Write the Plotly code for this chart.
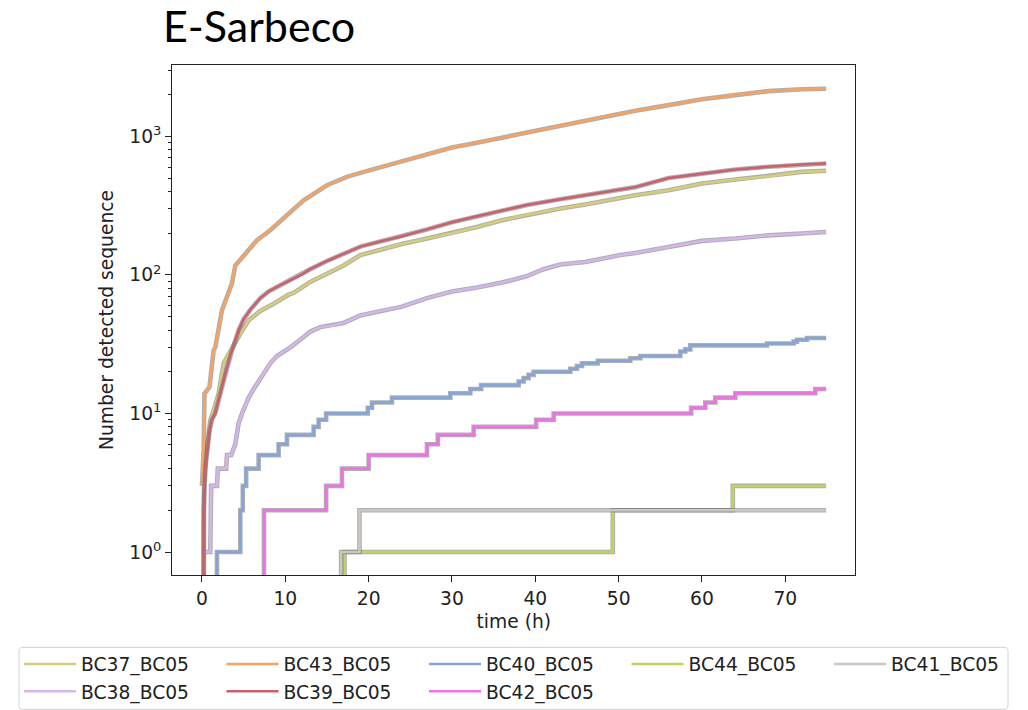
import plotly.graph_objects as go

FONT = "DejaVu Sans"

# ---------------- data (time in hours, cumulative detected sequences) ----------------
names = ["BC37_BC05", "BC38_BC05", "BC43_BC05", "BC39_BC05",
         "BC40_BC05", "BC42_BC05", "BC44_BC05", "BC41_BC05"]

t_bc37 = [0.2, 0.25, 0.5, 1.0, 1.5, 2.0, 2.6, 3.6, 4.6, 5.6, 7.0, 8.6, 10.4, 11.0, 13.0, 15.0,
          17.0, 19.0, 21.5, 24.0, 27.0, 30.0, 33.0, 36.0, 39.0, 43.0, 46.0, 50.2, 52.0, 56.0,
          60.0, 64.0, 68.0, 72.0, 74.9]
v_bc37 = [0, 3, 5, 8.9, 11, 13.9, 23, 30, 37.7, 47, 55, 62, 72, 74, 89, 102,
          117, 139, 153, 167, 183, 200, 222, 248, 272, 302, 322, 359, 376, 409,
          457, 488, 516, 554, 564]

t_bc38 = [0.0, 1.0, 1.1, 1.8, 1.9, 2.9, 3.0, 3.5, 4.0, 4.4, 4.8, 5.6, 6.2, 7.0, 7.4, 8.2, 9.0,
          10.6, 12.2, 13.0, 14.2, 15.5, 17.0, 19.0, 21.5, 24.0, 27.0, 30.0, 33.0, 36.0, 39.0,
          41.0, 43.0, 46.0, 50.2, 52.0, 56.0, 60.0, 64.0, 68.0, 72.0, 74.9]
v_bc38 = [1, 1, 3, 3, 4, 4, 5, 5, 6, 8.5, 10, 13, 15, 18, 19.5, 23, 26,
          30, 35.6, 39, 42, 43, 45, 51, 55, 59, 68, 76, 81, 88, 98,
          110, 119, 124, 139, 144, 159, 176, 183, 193, 199, 204]

t_bc43 = [0.0, 0.2, 0.3, 0.9, 1.4, 1.6, 2.4, 3.2, 3.6, 4.0, 4.6, 5.6, 6.6, 8.2, 10.2, 12.2,
          15.0, 17.4, 19.0, 21.5, 24.0, 27.0, 30.0, 33.0, 36.0, 39.0, 42.0, 45.0, 48.0, 52.0,
          56.0, 60.0, 64.0, 68.0, 72.0, 74.9]
v_bc43 = [3, 5.4, 13.9, 15.5, 28.5, 30, 55.6, 73, 87, 117, 128, 151, 178, 210, 270, 345,
          444, 510, 545, 600, 655, 740, 830, 900, 980, 1060, 1150, 1260, 1384, 1530,
          1680, 1850, 1985, 2120, 2185, 2205]

t_bc39 = [0.15, 0.2, 0.4, 0.6, 0.9, 1.2, 1.6, 2.2, 3.0, 3.6, 4.4, 5.0, 5.8, 7.0, 8.0, 9.0,
          10.6, 12.0, 13.0, 15.0, 17.0, 19.0, 21.5, 24.0, 27.0, 30.0, 33.0, 36.0, 39.0, 43.0,
          46.0, 50.2, 52.0, 56.0, 60.0, 64.0, 68.0, 72.0, 74.9]
v_bc39 = [0, 2, 4, 5.4, 7.5, 9, 10, 13.9, 21.6, 28.5, 40, 48, 56, 68, 76, 82,
          91, 101, 110, 126, 142, 160, 175, 190, 213, 240, 265, 293, 320, 352,
          375, 409, 430, 500, 540, 577, 603, 627, 637]

t_bc40 = [0.0, 1.8, 4.6, 4.9, 5.3, 6.8, 9.2, 10.2, 13.4, 14.0, 14.9, 19.9, 20.4, 22.8, 29.8,
          32.2, 33.5, 38.0, 38.6, 39.2, 39.8, 44.2, 45.0, 45.6, 47.5, 51.4, 52.6, 57.4, 58.0,
          58.6, 67.8, 71.0, 71.4, 72.6, 74.9]
v_bc40 = [0, 1, 2, 3, 4, 5, 6, 7, 8, 9, 10, 11, 12, 13, 14,
          15, 16, 17, 18, 19, 20, 21, 22, 23, 24, 25, 26, 28, 29,
          31, 32, 33, 34, 35, 35]

t_bc42 = [0.0, 7.44, 14.9, 16.8, 20.0, 27.0, 28.3, 32.6, 40.1, 42.2, 58.7, 60.4, 61.6, 64.0,
          73.6, 74.9]
v_bc42 = [0, 2, 3, 4, 5, 6, 7, 8, 9, 10, 11, 12, 13, 14, 15, 15]

t_bc44 = [0.0, 17.1, 49.3, 63.7, 74.9]
v_bc44 = [0, 1, 2, 3, 3]

t_bc41 = [0.0, 16.7, 18.9, 74.9]
v_bc41 = [0, 1, 2, 2]

x_ticks = [0, 10, 20, 30, 40, 50, 60, 70]
y_ticks = [1, 10, 100, 1000]
y_ticktext = ["10<sup>0</sup>", "10<sup>1</sup>", "10<sup>2</sup>", "10<sup>3</sup>"]
y_minor = [m * 10 ** e for e in range(0, 4) for m in range(2, 10) if m * 10 ** e < 3300]

# ---------------- styling ----------------
series = [
    (names[0], t_bc37, v_bc37, "#d5ce78", "linear", 1),
    (names[1], t_bc38, v_bc38, "#d5b5ee", "linear", 6),
    (names[2], t_bc43, v_bc43, "#f7a35f", "linear", 2),
    (names[3], t_bc39, v_bc39, "#c9606c", "linear", 7),
    (names[4], t_bc40, v_bc40, "#84a5d8", "hv", 3),
    (names[5], t_bc42, v_bc42, "#f070e8", "hv", 8),
    (names[6], t_bc44, v_bc44, "#bcd75c", "hv", 4),
    (names[7], t_bc41, v_bc41, "#cec7c1", "hv", 5),
]

OFF = 8  # page body margin in the browser
W, H = 1028 - OFF, 710 - OFF
ML, MR = 0, 0
PLOT_L, PLOT_R, PLOT_T, PLOT_B = 172.3 - OFF, 855.3 - OFF, 65 - OFF, 574.7 - OFF
MT, MB = PLOT_T, H - PLOT_B
PW, PH = W - ML - MR, H - MT - MB

fig = go.Figure()
for name, t, v, color, shape, rank in series:
    y = [val if val > 0 else 0.1 for val in v]  # zero counts clipped below axis (log scale)
    fig.add_trace(go.Scatter(
        x=t, y=y, mode="lines", showlegend=False, hoverinfo="skip",
        line=dict(color="rgba(95,95,95,0.5)", width=4.6, shape=shape)))
    fig.add_trace(go.Scatter(
        x=t, y=y, mode="lines", name=name, legendrank=rank,
        line=dict(color=color, width=2.5, shape=shape)))


def px_x(p):
    return (p - OFF - ML) / PW


def px_y(p):
    return 1 - (p - OFF - MT) / PH


# legend frame (rounded)
x0, x1 = px_x(19), px_x(1008)
y1, y0 = px_y(647), px_y(709)
rx, ry = 4 / PW, 4 / PH
path = (f"M {x0+rx},{y1} L {x1-rx},{y1} Q {x1},{y1} {x1},{y1-ry} L {x1},{y0+ry} "
        f"Q {x1},{y0} {x1-rx},{y0} L {x0+rx},{y0} Q {x0},{y0} {x0},{y0+ry} "
        f"L {x0},{y1-ry} Q {x0},{y1} {x0+rx},{y1} Z")
fig.add_shape(type="path", path=path, xref="paper", yref="paper",
              line=dict(color="#d2d2d2", width=1), fillcolor="rgba(255,255,255,0)", layer="below")

fig.add_annotation(text="E-Sarbeco", x=px_x(161), y=px_y(26), xref="paper", yref="paper",
                   xanchor="left", yanchor="middle", showarrow=False,
                   font=dict(family="Lato", size=43, color="#000000"))

axis_common = dict(
    showline=True, mirror=True, linecolor="#222222", linewidth=1.3,
    ticks="outside", ticklen=6, tickwidth=1.2, tickcolor="#222222",
    showgrid=False, zeroline=False,
    tickfont=dict(family=FONT, size=18.7, color="#222222"),
)

fig.update_layout(
    width=W, height=H,
    margin=dict(l=ML, r=MR, t=MT, b=MB, pad=0, autoexpand=False),
    paper_bgcolor="white", plot_bgcolor="white",
    font=dict(family=FONT, size=18.7, color="#222222"),
    xaxis=dict(
        domain=[PLOT_L / W, PLOT_R / W], range=[-3.56, 78.4],
        tickmode="array", tickvals=x_ticks,
        title=dict(text="time (h)", standoff=7, font=dict(family=FONT, size=18.7, color="#222222")),
        **axis_common),
    yaxis=dict(
        type="log", range=[-0.166, 3.515],
        tickmode="array", tickvals=y_ticks, ticktext=y_ticktext,
        minor=dict(tickmode="array", tickvals=y_minor, ticks="outside", ticklen=3.5,
                   tickwidth=1, tickcolor="#222222", showgrid=False),
        title=dict(text="Number detected sequence", standoff=10,
                   font=dict(family=FONT, size=18.7, color="#222222")),
        **axis_common),
    legend=dict(
        orientation="h", x=px_x(19), xanchor="left", y=px_y(645), yanchor="top",
        bgcolor="rgba(0,0,0,0)", borderwidth=0,
        font=dict(family=FONT, size=18.7, color="#222222"),
        itemwidth=52, entrywidth=135.5, entrywidthmode="pixels",
        traceorder="normal", tracegroupgap=0,
    ),
    showlegend=True,
)

fig.write_html("out.html")
